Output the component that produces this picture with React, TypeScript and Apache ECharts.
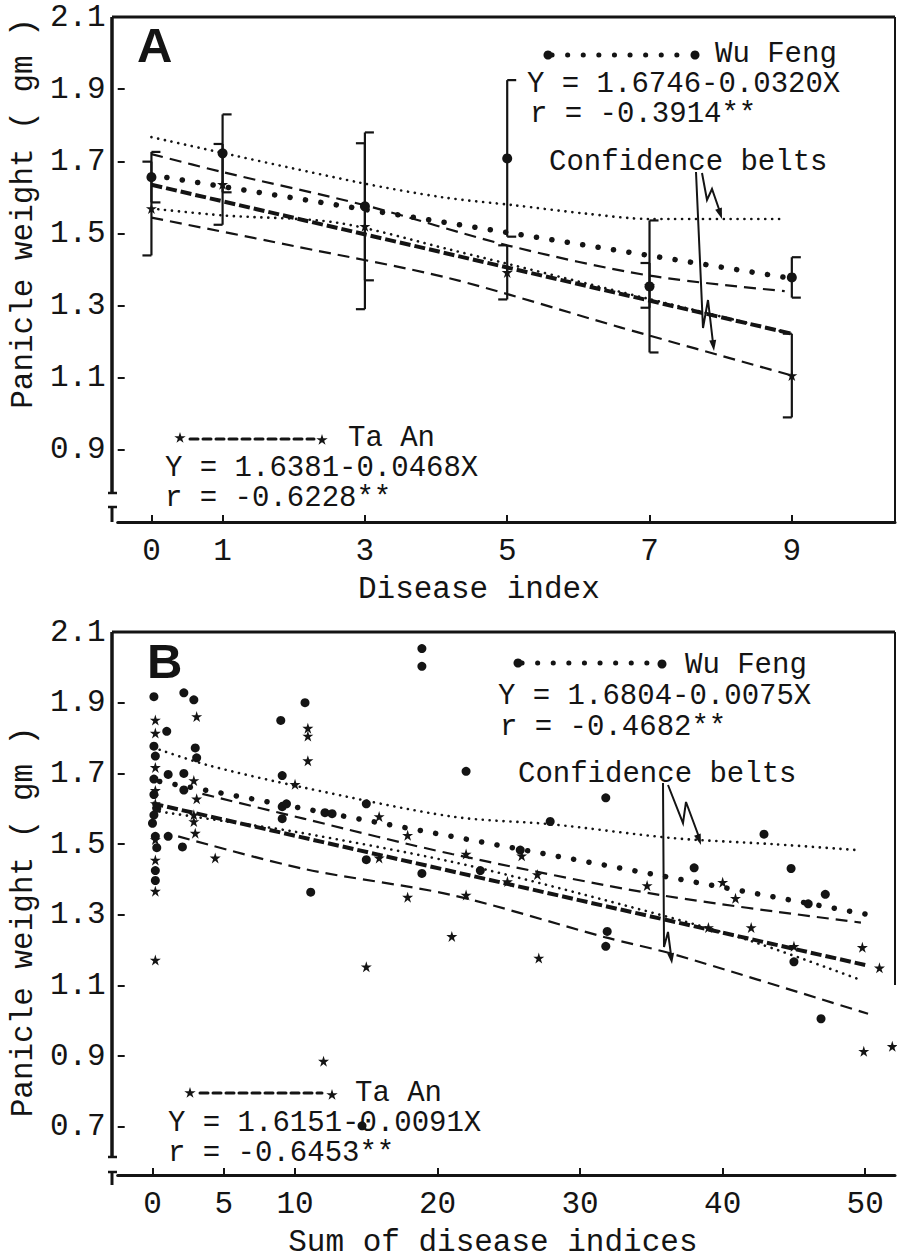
import React, { useEffect, useRef } from "react";
import * as echarts from "echarts";

const FONT = "'Liberation Mono', 'DejaVu Sans Mono', monospace";
const INK = "#141414";

// ---------- Panel A : disease index ----------
const aDiseaseIndex = [0, 1, 3, 5, 7, 9];
const aWuFengMean = [1.656, 1.722, 1.575, 1.708, 1.353, 1.378];
const aWuFengErr = [0.07, 0.108, 0.205, 0.217, 0.183, 0.056];
const aTaAnMean = [1.569, 1.636, 1.52, 1.392, 1.356, 1.106];
const aTaAnErr = [0.13, 0.112, 0.23, 0.075, 0.062, 0.116];

const aWuRegX = [0, 9];
const aWuRegY = [1.662, 1.375];
const aTaRegX = [0, 9];
const aTaRegY = [1.635, 1.222];

const aWuUpperX = [0, 2.9, 4.1, 5.1, 6.1, 7, 8.9];
const aWuUpperY = [1.767, 1.642, 1.6, 1.578, 1.555, 1.54, 1.54];
const aWuLowerX = [0, 1, 2.6, 4.2, 7, 9];
const aWuLowerY = [1.569, 1.55, 1.53, 1.455, 1.318, 1.222];
const aTaUpperX = [0, 1, 3, 5, 7, 8.9];
const aTaUpperY = [1.72, 1.67, 1.578, 1.467, 1.383, 1.34];
const aTaLowerX = [0, 2, 4.2, 6.6, 9];
const aTaLowerY = [1.544, 1.465, 1.375, 1.239, 1.106];

const aXTicks = [0, 1, 3, 5, 7, 9];
const aYTicks = [0.9, 1.1, 1.3, 1.5, 1.7, 1.9, 2.1];

// ---------- Panel B : sum of disease indices ----------
const bWuFengX = [
  0.1, 0.1, 0.2, 0.1, 0.3, 0.1, 0.0, 0.2, 0.3, 0.2, 0.2, 0.1,
  1.0, 2.2, 2.9, 1.1, 2.2, 2.2, 1.1, 2.1, 3.0, 3.1,
  9.0, 10.7, 9.1, 9.1, 9.4, 9.1, 11.1, 12.1, 12.6,
  15.0, 15.0, 18.9, 18.9, 18.9, 14.7,
  22.0, 23.0, 25.8, 27.9, 31.8, 31.9, 31.8,
  38.0, 42.9, 44.8, 45.0, 46.0, 47.2, 46.9,
];
const bWuFengY = [
  1.917, 1.777, 1.749, 1.684, 1.601, 1.582, 1.559, 1.522, 1.49, 1.425, 1.397, 1.64,
  1.819, 1.928, 1.908, 1.697, 1.7, 1.653, 1.522, 1.492, 1.772, 1.744,
  1.85, 1.9, 1.694, 1.606, 1.614, 1.572, 1.364, 1.589, 1.586,
  1.614, 1.456, 2.053, 2.003, 1.417, 0.703,
  1.706, 1.425, 1.483, 1.564, 1.631, 1.253, 1.211,
  1.433, 1.528, 1.431, 1.167, 1.331, 1.358, 1.006,
];
const bTaAnX = [
  0.2, 0.2, 0.2, 0.2, 0.2, 0.2, 0.2, 0.2, 0.2,
  3.1, 10.9, 10.9, 10.9, 10.0, 2.9, 3.1, 2.9, 2.9, 3.0, 4.4,
  15.9, 17.9, 17.9, 15.9, 22.0, 25.9, 27.0, 24.9, 34.7, 40.0, 40.9, 22.0,
  21.0, 27.1, 39.0, 42.0, 45.0, 49.8, 51.0, 49.9, 51.9, 15.0, 12.0,
];
const bTaAnY = [
  1.851, 1.814, 1.717, 1.652, 1.615, 1.513, 1.455, 1.367, 1.172,
  1.861, 1.828, 1.806, 1.736, 1.669, 1.68, 1.628, 1.583, 1.564, 1.531, 1.461,
  1.578, 1.525, 1.35, 1.461, 1.472, 1.467, 1.414, 1.394, 1.383, 1.392, 1.347, 1.356,
  1.239, 1.178, 1.264, 1.264, 1.211, 1.208, 1.15, 0.914, 0.928, 1.153, 0.886,
];

const bWuRegX = [0.5, 50];
const bWuRegY = [1.677, 1.302];
const bTaRegX = [0, 50];
const bTaRegY = [1.615, 1.158];

const bWuUpperX = [0.5, 4, 10.6, 21, 28, 36.5, 43.5, 49.5];
const bWuUpperY = [1.767, 1.722, 1.66, 1.578, 1.556, 1.517, 1.5, 1.483];
const bWuLowerX = [0.5, 5, 10, 21, 30, 41.2, 49.4];
const bWuLowerY = [1.592, 1.565, 1.535, 1.45, 1.36, 1.236, 1.12];
const bTaUpperX = [3.5, 10.6, 21, 35.6, 49.7];
const bTaUpperY = [1.642, 1.572, 1.472, 1.356, 1.278];
const bTaLowerX = [1.8, 10.6, 21, 31.8, 36.5, 50.2];
const bTaLowerY = [1.522, 1.43, 1.356, 1.236, 1.189, 1.02];

const bXTicks = [0, 5, 10, 20, 30, 40, 50];
const bYTicks = [0.7, 0.9, 1.1, 1.3, 1.5, 1.7, 1.9, 2.1];

// ---------- layout ----------
const GA = { left: 112, top: 17, width: 783, height: 505 };
const GB = { left: 112, top: 632, width: 783, height: 553 };

const STAR =
  "path://M0,-10L2.2,-3.1L9.5,-3.1L3.6,1.2L5.9,8.1L0,3.9L-5.9,8.1L-3.6,1.2L-9.5,-3.1L-2.2,-3.1Z";

const zip = (xs: number[], ys: number[]) => xs.map((x, i) => [x, ys[i]]);

function starPts(cx: number, cy: number, r: number) {
  const pts: number[][] = [];
  for (let i = 0; i < 10; i++) {
    const a = -Math.PI / 2 + (i * Math.PI) / 5;
    const rr = i % 2 === 0 ? r : r * 0.38;
    pts.push([cx + rr * Math.cos(a), cy + rr * Math.sin(a)]);
  }
  return pts;
}

function arrowHead(x1: number, y1: number, x2: number, y2: number) {
  const dx = x2 - x1, dy = y2 - y1;
  const len = Math.sqrt(dx * dx + dy * dy);
  const ux = dx / len, uy = dy / len;
  const L = 11, W = 3.5;
  const bx = x2 - ux * L, by = y2 - uy * L;
  return {
    type: "polygon",
    shape: { points: [[x2, y2], [bx - uy * W, by + ux * W], [bx + uy * W, by - ux * W]] },
    style: { fill: INK },
  };
}

function lineG(x1: number, y1: number, x2: number, y2: number, w: number, dash?: number[]) {
  return {
    type: "line",
    shape: { x1, y1, x2, y2 },
    style: { stroke: INK, lineWidth: w, lineDash: dash, lineCap: dash ? "round" : "butt" },
  };
}

function textG(text: string, x: number, y: number, size = 29) {
  return {
    type: "text",
    x,
    y,
    style: {
      text, fontFamily: FONT, fontSize: size, lineHeight: 24, fill: INK,
      align: "left", verticalAlign: "middle",
    },
  };
}

function polyG(points: number[][], w = 2) {
  return { type: "polyline", shape: { points }, style: { stroke: INK, lineWidth: w, fill: "none" } };
}

const errRender = (side: number) => (params: any, api: any) => {
  const x = api.value(0);
  const lo = api.coord([x, api.value(1)]);
  const hi = api.coord([x, api.value(2)]);
  const st = { stroke: INK, lineWidth: 2.2 };
  const c = 9 * side;
  return {
    type: "group",
    children: [
      { type: "line", shape: { x1: lo[0], y1: lo[1], x2: hi[0], y2: hi[1] }, style: st },
      { type: "line", shape: { x1: hi[0], y1: hi[1], x2: hi[0] + c, y2: hi[1] }, style: st },
      { type: "line", shape: { x1: lo[0], y1: lo[1], x2: lo[0] + c, y2: lo[1] }, style: st },
    ],
  };
};

function axisPair(g: number, xMin: number, xMax: number, xTicks: number[], xName: string, xPad: number,
  yMin: number, yTicks: number[], yPad: number[]) {
  const x = {
    type: "value", gridIndex: g, min: xMin, max: xMax,
    axisLine: { show: true, onZero: false, lineStyle: { color: INK, width: 3 } },
    axisTick: { show: true, inside: true, length: 7, lineStyle: { color: INK, width: 2 }, customValues: xTicks },
    axisLabel: { customValues: xTicks, fontFamily: FONT, fontSize: 31, color: INK, margin: 14 },
    splitLine: { show: false },
    name: xName, nameLocation: "middle", nameGap: 52,
    nameTextStyle: { fontFamily: FONT, fontSize: 31, color: INK, padding: [0, xPad, 0, 0] },
  };
  const y = {
    type: "value", gridIndex: g, min: yMin, max: 2.1,
    axisLine: { show: false, onZero: false },
    axisTick: { show: true, inside: true, length: 7, lineStyle: { color: INK, width: 2 }, customValues: yTicks },
    axisLabel: {
      customValues: yTicks, fontFamily: FONT, fontSize: 31, color: INK, margin: 12,
      formatter: (v: number) => v.toFixed(1),
    },
    splitLine: { show: false },
    name: "Panicle weight ( gm )", nameLocation: "middle", nameRotate: 90, nameGap: 74,
    nameTextStyle: { fontFamily: FONT, fontSize: 31, color: INK, padding: yPad },
  };
  return { x, y };
}

function lineS(xi: number, data: number[][], style: any, smooth = 0) {
  return {
    type: "line", xAxisIndex: xi, yAxisIndex: xi, data, symbol: "none", smooth,
    lineStyle: { color: INK, ...style }, silent: true, z: 3,
  };
}

const bigDots = { width: 5.5, type: [0.1, 15.5], cap: "round" };
const fineDots = { width: 2.6, type: [0.1, 6.8], cap: "round" };
const dashed = { width: 2.2, type: [12, 7] };
const thickDash = { width: 4, type: [11, 4] };

export default function App() {
  const ref = useRef<HTMLDivElement>(null);
  useEffect(() => {
    if (!ref.current) return;
    const chart = echarts.init(ref.current, undefined, { renderer: "svg" });
    const A = axisPair(0, -0.474, 10.45, aXTicks, "Disease index", 55, 0.7, aYTicks, [0, 0, 0, 112]);
    const B = axisPair(1, -2.44, 52.09, bXTicks, "Sum of disease indices", 27, 0.564, bYTicks, [0, 37, 0, 0]);

    const aErrWu = aDiseaseIndex.map((x, i) => [x, aWuFengMean[i] - aWuFengErr[i], aWuFengMean[i] + aWuFengErr[i]]);
    const aErrTa = aDiseaseIndex.map((x, i) => [x, aTaAnMean[i] - aTaAnErr[i], aTaAnMean[i] + aTaAnErr[i]]);

    const letter = (t: string, x: number, y: number) => ({
      type: "text", x, y,
      style: {
        text: t, fontFamily: "'Liberation Sans', Arial, sans-serif", fontWeight: "bold",
        fontSize: 49, fill: INK, align: "left", verticalAlign: "middle",
      },
    });

    const graphics: any[] = [
      // Panel A frame
      lineG(GA.left, GA.top, GA.left, 493, 3.5),
      lineG(GA.left - 4, 493, GA.left + 5, 493, 2.5),
      lineG(GA.left, 507, GA.left, GA.top + GA.height, 3),
      lineG(GA.left - 4, 507, GA.left + 5, 507, 2.5),
      lineG(GA.left, GA.top, GA.left + GA.width, GA.top, 3),
      lineG(GA.left + GA.width, GA.top, GA.left + GA.width, GA.top + GA.height, 2),
      // Panel B frame
      lineG(GB.left, GB.top, GB.left, 1157, 3.5),
      lineG(GB.left - 4, 1157, GB.left + 5, 1157, 2.5),
      lineG(GB.left, 1172, GB.left, GB.top + GB.height, 3),
      lineG(GB.left - 4, 1172, GB.left + 5, 1172, 2.5),
      lineG(GB.left, GB.top, GB.left + GB.width, GB.top, 3),
      lineG(GB.left + GB.width, GB.top, GB.left + GB.width, 985, 2),
      // panel letters
      letter("A", 137, 45),
      letter("B", 147, 661),
      // Panel A legends
      lineG(552, 55, 690, 55, 5, [0.1, 15.5]),
      { type: "circle", shape: { cx: 548, cy: 55, r: 4.5 }, style: { fill: INK } },
      { type: "circle", shape: { cx: 695, cy: 55, r: 4.5 }, style: { fill: INK } },
      textG("Wu Feng", 715, 54),
      textG("Y = 1.6746-0.0320X", 527, 84),
      textG("r = -0.3914**", 530, 114),
      textG("Confidence belts", 549, 162),
      lineG(190, 439, 314, 439, 3, [8, 5]),
      { type: "polygon", shape: { points: starPts(180, 438, 6) }, style: { fill: INK } },
      { type: "polygon", shape: { points: starPts(322, 440, 6) }, style: { fill: INK } },
      textG("Ta An", 348, 438),
      textG("Y = 1.6381-0.0468X", 165, 468),
      textG("r = -0.6228**", 165, 498),
      // Panel A arrows
      polyG([[702, 173], [707, 200], [712, 189], [720, 212]]),
      arrowHead(712, 189, 722, 219),
      polyG([[696, 172], [703, 328], [708, 300], [713, 343]]),
      arrowHead(708, 300, 714, 351),
      // Panel B legends
      lineG(522, 663, 658, 663, 5, [0.1, 15.5]),
      { type: "circle", shape: { cx: 518, cy: 663, r: 4.5 }, style: { fill: INK } },
      { type: "circle", shape: { cx: 662, cy: 664, r: 4.5 }, style: { fill: INK } },
      textG("Wu Feng", 685, 665),
      textG("Y = 1.6804-0.0075X", 498, 696),
      textG("r = -0.4682**", 500, 727),
      textG("Confidence belts", 518, 774),
      lineG(200, 1093, 322, 1093, 3, [8, 5]),
      { type: "polygon", shape: { points: starPts(190, 1093, 6) }, style: { fill: INK } },
      { type: "polygon", shape: { points: starPts(332, 1095, 6) }, style: { fill: INK } },
      textG("Ta An", 355, 1093),
      textG("Y = 1.6151-0.0091X", 168, 1123),
      textG("r = -0.6453**", 168, 1153),
      // Panel B arrows
      polyG([[668, 785], [683, 823], [686, 802], [699, 837]]),
      arrowHead(686, 802, 701, 845),
      polyG([[663, 783], [664, 947], [668, 932], [671, 955]]),
      arrowHead(668, 932, 672, 964),
    ];

    chart.setOption({
      animation: false,
      backgroundColor: "#ffffff",
      grid: [
        { left: GA.left, top: GA.top, width: GA.width, height: GA.height, show: false },
        { left: GB.left, top: GB.top, width: GB.width, height: GB.height, show: false },
      ],
      xAxis: [A.x, B.x],
      yAxis: [A.y, B.y],
      graphic: { elements: graphics },
      series: [
        // Panel A
        lineS(0, zip(aWuUpperX, aWuUpperY), fineDots, 0.3),
        lineS(0, zip(aWuLowerX, aWuLowerY), fineDots, 0.3),
        lineS(0, zip(aTaUpperX, aTaUpperY), dashed, 0.3),
        lineS(0, zip(aTaLowerX, aTaLowerY), dashed, 0.3),
        lineS(0, zip(aWuRegX, aWuRegY), bigDots),
        lineS(0, zip(aTaRegX, aTaRegY), thickDash),
        {
          type: "custom", xAxisIndex: 0, yAxisIndex: 0, renderItem: errRender(1),
          data: aErrWu, encode: { x: 0, y: [1, 2] }, z: 4, silent: true,
        },
        {
          type: "custom", xAxisIndex: 0, yAxisIndex: 0, renderItem: errRender(-1),
          data: aErrTa, encode: { x: 0, y: [1, 2] }, z: 4, silent: true,
        },
        {
          type: "scatter", name: "Wu Feng", xAxisIndex: 0, yAxisIndex: 0,
          data: zip(aDiseaseIndex, aWuFengMean), symbol: "circle", symbolSize: 10,
          itemStyle: { color: INK, opacity: 1 }, z: 5,
        },
        {
          type: "scatter", name: "Ta An", xAxisIndex: 0, yAxisIndex: 0,
          data: zip(aDiseaseIndex, aTaAnMean), symbol: STAR, symbolSize: 11,
          itemStyle: { color: INK, opacity: 1 }, z: 5,
        },
        // Panel B
        lineS(1, zip(bWuUpperX, bWuUpperY), fineDots, 0.3),
        lineS(1, zip(bWuLowerX, bWuLowerY), fineDots, 0.3),
        lineS(1, zip(bTaUpperX, bTaUpperY), dashed, 0.3),
        lineS(1, zip(bTaLowerX, bTaLowerY), dashed, 0.3),
        lineS(1, zip(bWuRegX, bWuRegY), bigDots),
        lineS(1, zip(bTaRegX, bTaRegY), thickDash),
        {
          type: "scatter", name: "Wu Feng", xAxisIndex: 1, yAxisIndex: 1,
          data: zip(bWuFengX, bWuFengY), symbol: "circle", symbolSize: 9,
          itemStyle: { color: INK, opacity: 1 }, z: 5,
        },
        {
          type: "scatter", name: "Ta An", xAxisIndex: 1, yAxisIndex: 1,
          data: zip(bTaAnX, bTaAnY), symbol: STAR, symbolSize: 11,
          itemStyle: { color: INK, opacity: 1 }, z: 5,
        },
      ],
    });
    return () => chart.dispose();
  }, []);
  return (
    <div
      ref={ref}
      style={{ position: "absolute", left: 0, top: 0, width: 897, height: 1259, background: "#fff" }}
    />
  );
}
